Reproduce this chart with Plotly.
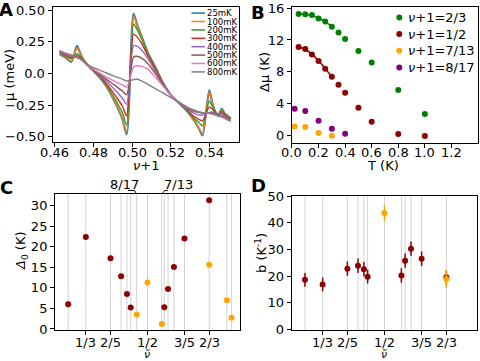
import plotly.graph_objects as go

# ---- panel A: mu vs nu+1 at several temperatures ----
nu_plus_one = [0.4625, 0.4655, 0.4685, 0.470, 0.4715, 0.473, 0.4745, 0.477, 0.480, 0.484,
               0.488, 0.492, 0.495, 0.4972, 0.5008, 0.5025, 0.505, 0.508, 0.512, 0.516,
               0.520, 0.524, 0.528, 0.532, 0.5348, 0.5365, 0.5400, 0.5415, 0.5430, 0.5445,
               0.5465, 0.548, 0.5495, 0.551]
mu_25mK = [0.150, 0.125, 0.092, 0.150, 0.218, 0.165, 0.115, 0.066, 0.020, -0.045,
           -0.135, -0.255, -0.36, -0.48, 0.47, 0.39, 0.29, 0.17, 0.05, -0.075,
           -0.17, -0.23, -0.29, -0.37, -0.44, -0.49, -0.135, -0.23, -0.30, -0.335,
           -0.28, -0.32, -0.335, -0.355]
mu_100mK = [0.152, 0.127, 0.097, 0.148, 0.205, 0.160, 0.113, 0.066, 0.020, -0.043,
            -0.132, -0.25, -0.355, -0.47, 0.455, 0.385, 0.285, 0.168, 0.05, -0.075,
            -0.17, -0.23, -0.29, -0.37, -0.435, -0.48, -0.145, -0.235, -0.30, -0.335,
            -0.285, -0.322, -0.337, -0.357]
mu_200mK = [0.160, 0.135, 0.118, 0.135, 0.155, 0.135, 0.105, 0.066, 0.022, -0.04,
            -0.12, -0.225, -0.31, -0.41, 0.39, 0.35, 0.27, 0.16, 0.045, -0.075,
            -0.17, -0.228, -0.285, -0.355, -0.39, -0.415, -0.22, -0.255, -0.30, -0.325,
            -0.295, -0.32, -0.34, -0.36]
mu_300mK = [0.165, 0.145, 0.125, 0.130, 0.140, 0.128, 0.103, 0.066, 0.025, -0.035,
            -0.105, -0.19, -0.26, -0.335, 0.31, 0.29, 0.235, 0.145, 0.035, -0.08,
            -0.17, -0.226, -0.28, -0.34, -0.365, -0.375, -0.265, -0.28, -0.31, -0.325,
            -0.31, -0.33, -0.345, -0.365]
mu_400mK = [0.17, 0.15, 0.135, 0.130, 0.128, 0.118, 0.10, 0.066, 0.028, -0.025,
            -0.08, -0.145, -0.195, -0.245, 0.22, 0.215, 0.185, 0.12, 0.02, -0.085,
            -0.17, -0.225, -0.275, -0.315, -0.33, -0.33, -0.31, -0.305, -0.315, -0.325,
            -0.32, -0.34, -0.355, -0.37]
mu_500mK = [0.175, 0.155, 0.14, 0.132, 0.125, 0.115, 0.098, 0.066, 0.03, -0.015,
            -0.06, -0.105, -0.14, -0.17, 0.13, 0.135, 0.12, 0.08, 0.0, -0.09,
            -0.17, -0.225, -0.27, -0.30, -0.31, -0.315, -0.315, -0.315, -0.32, -0.33,
            -0.335, -0.35, -0.36, -0.375]
mu_600mK = [0.178, 0.158, 0.143, 0.135, 0.125, 0.115, 0.098, 0.068, 0.033, -0.005,
            -0.04, -0.07, -0.09, -0.11, 0.05, 0.06, 0.055, 0.035, -0.03, -0.10,
            -0.17, -0.225, -0.265, -0.29, -0.305, -0.31, -0.315, -0.32, -0.325, -0.335,
            -0.34, -0.355, -0.365, -0.378]
mu_800mK = [0.18, 0.16, 0.145, 0.137, 0.127, 0.117, 0.10, 0.07, 0.045, 0.02,
            -0.005, -0.03, -0.045, -0.06, -0.05, -0.045, -0.06, -0.085, -0.12, -0.155,
            -0.19, -0.225, -0.26, -0.29, -0.305, -0.31, -0.315, -0.32, -0.328, -0.335,
            -0.345, -0.355, -0.368, -0.38]
temp_labels = ["25mK", "100mK", "200mK", "300mK", "400mK", "500mK", "600mK", "800mK"]
mu_curves = [mu_25mK, mu_100mK, mu_200mK, mu_300mK, mu_400mK, mu_500mK, mu_600mK, mu_800mK]
temp_colors = ["#1f77b4", "#ff7f0e", "#2ca02c", "#d62728", "#9467bd", "#8c564b", "#e377c2", "#7f7f7f"]
ticks_A = [0.46, 0.48, 0.50, 0.52, 0.54]
ticks_A_text = ["0.46", "0.48", "0.50", "0.52", "0.54"]

# ---- panel B: gap vs temperature ----
T_main = [0.05, 0.1, 0.15, 0.2, 0.25, 0.3, 0.35, 0.4, 0.5, 0.6, 0.8, 1.0]
dmu_2_3 = [15.28, 15.24, 15.15, 14.73, 14.35, 13.68, 12.96, 12.12, 10.6, 9.17, 5.68, 2.65]
dmu_1_2 = [11.11, 10.86, 10.18, 9.34, 8.37, 7.36, 6.35, 5.34, 3.45, 1.68, 0.13, -0.13]
T_7_13 = [0.02, 0.1, 0.2, 0.3]
dmu_7_13 = [1.09, 1.01, 0.25, -0.08]
T_8_17 = [0.02, 0.1, 0.2, 0.3, 0.4]
dmu_8_17 = [3.32, 3.03, 1.81, 0.80, 0.17]
T_fit = [0.05, 0.1, 0.15, 0.2, 0.25, 0.3]
fit_2_3 = [15.28, 15.22, 15.08, 14.78, 14.33, 13.70]
fit_1_2 = [11.11, 10.80, 10.22, 9.38, 8.40, 7.36]
legend_B = ["2/3", "1/2", "7/13", "8/17"]
ticks_B = [0, 0.2, 0.4, 0.6, 0.8, 1.0, 1.2]
ticks_B_text = ["0.0", "0.2", "0.4", "0.6", "0.8", "1.0", "1.2"]

# ---- panels C, D ----
nu_lines_C = [2/7, 1/3, 2/5, 3/7, 4/9, 5/11, 8/17, 1/2, 7/13, 6/11, 5/9, 4/7, 3/5, 2/3, 5/7, 8/11]
nu_lines_D = [2/7, 1/3, 2/5, 3/7, 4/9, 5/11, 1/2, 6/11, 5/9, 4/7, 3/5, 2/3]
nu_red = [2/7, 1/3, 2/5, 3/7, 4/9, 5/11, 6/11, 5/9, 4/7, 3/5, 2/3]
delta0_red = [6.0, 22.4, 17.2, 12.8, 8.5, 5.2, 5.3, 9.7, 15.1, 22.0, 31.3]
nu_orange_C = [8/17, 1/2, 7/13, 2/3, 5/7, 8/11]
delta0_orange = [3.5, 11.3, 1.2, 15.6, 7.0, 2.7]
b_red = [18.6, 16.9, 22.8, 23.9, 22.6, 19.8, 20.2, 25.8, 30.3, 26.5, 19.6]
b_red_err = [2.6, 2.6, 2.7, 2.7, 2.7, 2.6, 2.7, 2.7, 2.7, 2.7, 2.7]
nu_orange_D = [1/2, 2/3]
b_orange = [43.7, 18.9]
b_orange_err = [3.0, 3.4]
tick_nu = [1/3, 2/5, 1/2, 3/5, 2/3]
tick_nu_text = ["1/3", "2/5", "1/2", "3/5", "2/3"]

DARKRED = "#8b0000"
ORANGE = "#ffa500"
FONT = "DejaVu Sans"
W, H = 480, 361

fig = go.Figure()

for lab, ys, col in zip(temp_labels, mu_curves, temp_colors):
    fig.add_trace(go.Scatter(x=nu_plus_one, y=ys, mode="lines", name=lab,
                             line=dict(color=col, width=2.2 if lab == "25mK" else 1.4,
                                       shape="spline", smoothing=0.7),
                             xaxis="x", yaxis="y", showlegend=False))

fig.add_trace(go.Scatter(x=T_fit, y=fit_2_3, mode="lines", line=dict(color="green", width=1.5, shape="spline"),
                         xaxis="x2", yaxis="y2", showlegend=False))
fig.add_trace(go.Scatter(x=T_fit, y=fit_1_2, mode="lines", line=dict(color=DARKRED, width=1.5, shape="spline"),
                         xaxis="x2", yaxis="y2", showlegend=False))
for xs, ys, col in [(T_main, dmu_2_3, "green"), (T_main, dmu_1_2, DARKRED),
                    (T_7_13, dmu_7_13, ORANGE), (T_8_17, dmu_8_17, "purple")]:
    fig.add_trace(go.Scatter(x=xs, y=ys, mode="markers", marker=dict(color=col, size=6),
                             xaxis="x2", yaxis="y2", showlegend=False))

fig.add_trace(go.Scatter(x=nu_red, y=delta0_red, mode="markers", marker=dict(color=DARKRED, size=6),
                         xaxis="x3", yaxis="y3", showlegend=False))
fig.add_trace(go.Scatter(x=nu_orange_C, y=delta0_orange, mode="markers", marker=dict(color=ORANGE, size=6),
                         xaxis="x3", yaxis="y3", showlegend=False))

fig.add_trace(go.Scatter(x=nu_red, y=b_red, mode="markers", marker=dict(color=DARKRED, size=6),
                         error_y=dict(type="data", array=b_red_err, color=DARKRED, thickness=1.5, width=0),
                         xaxis="x4", yaxis="y4", showlegend=False))
fig.add_trace(go.Scatter(x=nu_orange_D, y=b_orange, mode="markers", marker=dict(color=ORANGE, size=6),
                         error_y=dict(type="data", array=b_orange_err, color=ORANGE, thickness=1.5, width=0),
                         xaxis="x4", yaxis="y4", showlegend=False))

# grey guide lines at fractions
for v in nu_lines_C:
    fig.add_shape(type="line", xref="x3", yref="y3 domain", x0=v, x1=v, y0=0, y1=1,
                  line=dict(color="#d3d3d3", width=1), layer="below")
for v in nu_lines_D:
    fig.add_shape(type="line", xref="x4", yref="y4 domain", x0=v, x1=v, y0=0, y1=1,
                  line=dict(color="#d3d3d3", width=1), layer="below")

# x tick labels drawn a little closer to the axis than plotly's default
for xr, yr, vals, texts, shift in [("x", "y domain", ticks_A, ticks_A_text, -10),
                                   ("x2", "y2 domain", ticks_B, ticks_B_text, -10),
                                   ("x3", "y3 domain", tick_nu, tick_nu_text, -12.5),
                                   ("x4", "y4 domain", tick_nu, tick_nu_text, -12.5)]:
    for v, t in zip(vals, texts):
        fig.add_annotation(text=t, xref=xr, yref=yr, x=v, y=0, yshift=shift, showarrow=False,
                           xanchor="center", yanchor="middle",
                           font=dict(size=13, family=FONT, color="black"))

# hand-made legend for A (plotly's own legend rows are too tall here)
for i, (lab, col) in enumerate(zip(temp_labels, temp_colors)):
    yy = 0.955 - i * 0.062
    fig.add_shape(type="line", xref="x domain", yref="y domain", x0=0.745, x1=0.818, y0=yy, y1=yy,
                  line=dict(color=col, width=1.5))
    fig.add_annotation(text=lab, xref="x domain", yref="y domain", x=0.825, y=yy, showarrow=False,
                       xanchor="left", yanchor="middle", height=8, borderpad=0,
                       font=dict(size=8.5, family=FONT, color="black"))

# hand-made legend for B
for i, (lab, col) in enumerate(zip(legend_B, ["green", DARKRED, ORANGE, "purple"])):
    yy = 0.925 - i * 0.123
    fig.add_shape(type="circle", xref="x2 domain", yref="y2 domain", xsizemode="pixel", ysizemode="pixel",
                  xanchor=0.577, yanchor=yy, x0=-3, x1=3, y0=-3, y1=3,
                  fillcolor=col, line=dict(width=0))
    fig.add_annotation(text="<i>ν</i>+1=" + lab, xref="x2 domain", yref="y2 domain", x=0.613, y=yy,
                       showarrow=False, xanchor="left", yanchor="middle",
                       font=dict(size=13, family=FONT, color="black"))

# top labels of C
fig.add_annotation(text="8/17", xref="x3", yref="y3 domain", x=0.439, y=1.068, showarrow=False,
                   xanchor="center", yanchor="middle", font=dict(size=13, family=FONT, color="black"))
fig.add_annotation(text="7/13", xref="x3", yref="y3 domain", x=0.583, y=1.068, showarrow=False,
                   xanchor="center", yanchor="middle", font=dict(size=13, family=FONT, color="black"))
fig.add_shape(type="path", xref="x3", yref="y3 domain", path="M 0.4473 1.026 L 0.4649 1.026 L %f 1" % (8/17),
              line=dict(color="black", width=1))
fig.add_shape(type="path", xref="x3", yref="y3 domain", path="M %f 1 L 0.5465 1.026 L 0.555 1.026" % (7/13),
              line=dict(color="black", width=1))

# panel letters and axis titles, placed by pixel centre
labels_px = [
    ("<b>A</b>", 6, 10, 18, 0), ("<b>B</b>", 258, 12, 18, 0),
    ("<b>C</b>", 6, 187, 18, 0), ("<b>D</b>", 258, 185, 18, 0),
    ("<i>ν</i>+1", 146, 165, 13, 0), ("μ (meV)", 9, 75, 13, -90),
    ("T (K)", 383, 165, 13, 0), ("Δμ (K)", 264, 72, 13, -90),
    ("<i>ν̃</i>", 147, 354, 11, 0), ("<i>Δ</i><sub>0</sub> (K)", 21, 251, 13, -90),
    ("<i>ν̃</i>", 384, 354, 11, 0), ("b (K<sup>-1</sup>)", 261, 253, 13, -90),
]
for txt, px, py, size, ang in labels_px:
    fig.add_annotation(text=txt, xref="paper", yref="paper", x=px / W, y=1 - py / H, showarrow=False,
                       xanchor="center", yanchor="middle", textangle=ang,
                       font=dict(size=size, family=FONT, color="black"))

axis_common = dict(showline=True, linecolor="black", linewidth=1, mirror=True, ticks="outside",
                   ticklen=4, tickcolor="black", showgrid=False, zeroline=False, automargin=False,
                   tickfont=dict(size=13, family=FONT, color="black"))
x_common = dict(axis_common, showticklabels=False)

fig.update_layout(
    width=W, height=H, margin=dict(l=0, r=0, t=0, b=0),
    paper_bgcolor="white", plot_bgcolor="white", showlegend=False,
    font=dict(family=FONT, size=13, color="black"),
    xaxis=dict(domain=[0.1094, 0.4979], range=[0.4588, 0.5554], anchor="y",
               tickvals=ticks_A, **x_common),
    yaxis=dict(domain=[0.6053, 0.9806], range=[-0.546, 0.524], anchor="x",
               tickvals=[-0.5, -0.25, 0, 0.25, 0.5], ticktext=["−0.50", "−0.25", "0.0", "0.25", "0.50"],
               **axis_common),
    xaxis2=dict(domain=[0.6083, 0.9958], range=[0, 1.4], anchor="y2",
                tickvals=ticks_B, **x_common),
    yaxis2=dict(domain=[0.6047, 0.9798], range=[-0.97, 16.13], anchor="x2",
                tickvals=[0, 4, 8, 12, 16], **axis_common),
    xaxis3=dict(domain=[0.1146, 0.5], range=[0.25, 0.75], anchor="y3",
                tickvals=tick_nu, **x_common),
    yaxis3=dict(domain=[0.0859, 0.4626], range=[-0.25, 32.85], anchor="x3",
                tickvals=[0, 5, 10, 15, 20, 25, 30], **axis_common),
    xaxis4=dict(domain=[0.6077, 0.9944], range=[0.25, 0.75], anchor="y4",
                tickvals=tick_nu, **x_common),
    yaxis4=dict(domain=[0.0859, 0.4576], range=[-0.2, 50.1], anchor="x4",
                tickvals=[0, 10, 20, 30, 40, 50], **axis_common),
)

# the page body has a default margin; drop it so the figure sits at the window's corner
fig.write_html("out.html", config={"displayModeBar": False},
               post_script="document.body.style.margin='0px';")
